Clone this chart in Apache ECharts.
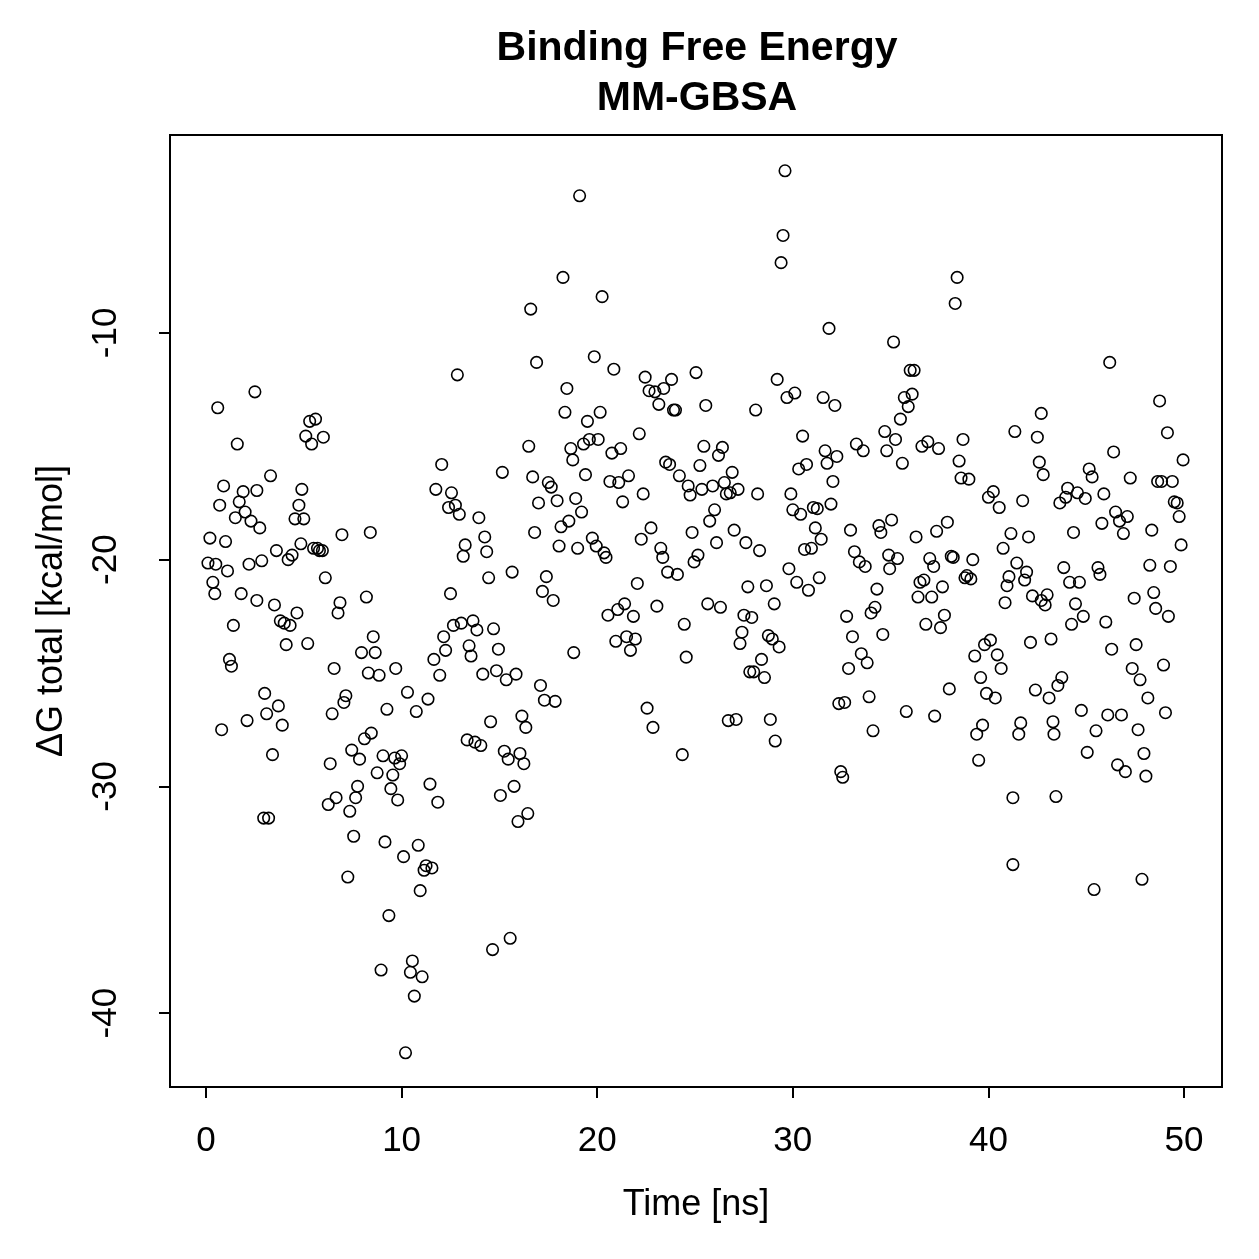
<!DOCTYPE html>
<html><head><meta charset="utf-8">
<script src="https://cdn.jsdelivr.net/npm/echarts@6/dist/echarts.min.js"></script>
<style>html,body{margin:0;padding:0;background:#fff}#c{width:1259px;height:1259px}</style>
</head><body><div id="c"></div>
<script>
const titleLines = ["Binding Free Energy", "MM-GBSA"];
const xTicks = [0, 10, 20, 30, 40, 50];
const yTicks = [-40, -30, -20, -10];
const time = [
0.1,0.2,0.35,0.45,0.5,0.6,0.7,0.8,0.9,1.0,1.1,1.2,1.3,1.4,1.5,1.6,1.7,1.8,1.9,2.0,
2.1,2.2,2.3,2.5,2.6,2.6,2.75,2.85,2.95,3.0,3.1,3.2,3.3,3.4,3.5,3.6,3.7,3.8,3.9,4.0,
4.1,4.2,4.3,4.4,4.55,4.65,4.75,4.85,4.9,5.0,5.1,5.2,5.3,5.4,5.5,5.6,5.7,5.8,5.95,6.0,
6.1,6.25,6.35,6.45,6.55,6.65,6.75,6.85,6.95,7.05,7.15,7.25,7.35,7.45,7.55,7.65,7.75,7.85,7.95,8.1,
8.2,8.3,8.4,8.45,8.55,8.65,8.75,8.85,8.95,9.05,9.15,9.25,9.35,9.45,9.55,9.65,9.7,9.8,9.9,10.0,
10.1,10.2,10.3,10.45,10.55,10.65,10.75,10.85,10.95,11.05,11.15,11.25,11.35,11.45,11.55,11.65,11.75,11.85,11.95,12.05,
12.15,12.25,12.4,12.5,12.55,12.65,12.75,12.85,12.95,13.05,13.15,13.25,13.35,13.45,13.55,13.65,13.75,13.85,13.95,14.05,
14.15,14.25,14.35,14.45,14.55,14.65,14.7,14.85,14.95,15.05,15.15,15.25,15.35,15.45,15.55,15.65,15.75,15.85,15.95,16.05,
16.15,16.25,16.35,16.45,16.5,16.6,16.7,16.8,16.9,17.0,17.1,17.2,17.3,17.4,17.5,17.65,17.75,17.85,17.95,18.05,
18.15,18.25,18.35,18.45,18.55,18.65,18.75,18.8,18.9,19.0,19.1,19.2,19.3,19.4,19.5,19.6,19.75,19.85,19.95,20.05,
20.15,20.25,20.35,20.45,20.55,20.65,20.75,20.85,20.95,21.05,21.1,21.2,21.3,21.4,21.5,21.6,21.7,21.85,21.95,22.05,
22.15,22.25,22.35,22.45,22.55,22.65,22.75,22.85,22.95,23.05,23.15,23.25,23.35,23.4,23.5,23.6,23.7,23.8,23.9,24.0,
24.1,24.2,24.35,24.45,24.55,24.65,24.75,24.85,24.95,25.05,25.15,25.25,25.35,25.45,25.55,25.65,25.75,25.9,26.0,26.1,
26.2,26.3,26.4,26.5,26.6,26.7,26.8,26.9,27.0,27.1,27.2,27.3,27.4,27.5,27.6,27.7,27.8,27.9,28.0,28.1,
28.2,28.3,28.4,28.55,28.65,28.75,28.85,28.95,29.05,29.1,29.2,29.3,29.4,29.5,29.6,29.7,29.8,29.9,30.0,30.1,
30.2,30.3,30.4,30.5,30.6,30.7,30.8,30.95,31.05,31.15,31.25,31.35,31.45,31.55,31.65,31.75,31.85,31.95,32.05,32.15,
32.25,32.35,32.45,32.55,32.65,32.75,32.85,32.95,33.05,33.15,33.25,33.4,33.5,33.6,33.7,33.8,33.9,34.0,34.1,34.2,
34.3,34.4,34.5,34.6,34.7,34.8,34.9,34.95,35.05,35.15,35.25,35.35,35.5,35.6,35.7,35.8,35.9,36.0,36.1,36.2,
36.3,36.4,36.5,36.6,36.7,36.8,36.9,37.0,37.1,37.2,37.25,37.35,37.45,37.55,37.65,37.75,37.9,38.0,38.1,38.2,
38.3,38.4,38.5,38.6,38.7,38.8,38.9,39.0,39.1,39.2,39.3,39.4,39.5,39.6,39.7,39.8,39.9,40.0,40.1,40.25,
40.35,40.45,40.55,40.65,40.75,40.85,40.95,41.05,41.15,41.25,41.35,41.25,41.45,41.55,41.65,41.75,41.85,41.95,42.05,42.15,
42.25,42.4,42.5,42.6,42.7,42.7,42.8,42.9,43.0,43.1,43.2,43.3,43.35,43.45,43.55,43.65,43.75,43.85,43.95,44.05,
44.15,44.25,44.35,44.45,44.55,44.65,44.75,44.85,44.95,45.05,45.15,45.3,45.4,45.5,45.6,45.7,45.8,45.9,46.0,46.1,
46.2,46.3,46.4,46.5,46.6,46.7,46.8,46.9,47.0,47.1,47.25,47.35,47.45,47.55,47.65,47.75,47.85,47.95,48.05,48.15,
48.25,48.35,48.45,48.55,48.65,48.75,48.85,48.95,49.05,49.15,49.2,49.3,49.4,49.5,49.65,49.75,49.85,49.95
];
const dG = [
-20.15,-19.05,-21.0,-21.5,-20.2,-13.3,-17.6,-27.5,-16.75,-19.2,-20.5,-24.4,-24.7,-22.9,-18.15,-14.9,-17.45,-21.5,-17.0,-17.9,
-27.1,-20.2,-18.3,-12.6,-21.8,-16.95,-18.6,-20.05,-31.4,-25.9,-26.8,-31.4,-16.3,-28.6,-22.0,-19.6,-26.45,-22.7,-27.3,-22.8,
-23.75,-20.0,-22.9,-19.8,-18.2,-22.35,-17.6,-19.3,-16.9,-18.2,-14.55,-23.7,-13.9,-14.9,-19.5,-13.8,-19.5,-19.6,-19.6,-14.6,
-20.8,-30.8,-29.0,-26.8,-24.8,-30.5,-22.35,-21.9,-18.9,-26.3,-26.0,-34.0,-31.1,-28.4,-32.2,-30.5,-30.0,-28.8,-24.1,-27.9,
-21.65,-25.0,-18.8,-27.65,-23.4,-24.1,-29.4,-25.1,-38.1,-28.65,-32.45,-26.6,-35.7,-30.1,-29.5,-28.75,-24.8,-30.6,-29.0,-28.65,
-33.1,-41.75,-25.85,-38.2,-37.7,-39.25,-26.7,-32.6,-34.6,-38.4,-33.7,-33.5,-26.15,-29.9,-33.6,-24.4,-16.9,-30.7,-25.1,-15.8,
-23.4,-24.0,-17.7,-21.5,-17.05,-22.9,-17.6,-11.85,-18.0,-22.8,-19.85,-19.35,-27.95,-23.8,-24.25,-22.7,-28.05,-23.1,-18.15,-28.2,
-25.05,-19.0,-19.65,-20.8,-27.15,-37.2,-23.05,-24.9,-23.95,-30.4,-16.15,-28.45,-25.3,-28.8,-36.7,-20.55,-30.0,-25.05,-31.55,-28.55,
-26.9,-29.0,-27.4,-31.2,-15.0,-8.95,-16.35,-18.8,-11.3,-17.5,-25.55,-21.4,-26.2,-20.75,-16.6,-16.8,-21.8,-26.25,-17.4,-19.4,
-18.55,-7.55,-13.5,-12.45,-18.3,-15.1,-15.6,-24.1,-17.3,-19.5,-3.95,-17.9,-14.9,-16.25,-13.9,-14.7,-19.05,-11.05,-19.4,-14.7,
-13.5,-8.4,-19.7,-19.9,-22.45,-16.55,-15.3,-11.6,-23.6,-22.2,-16.6,-15.1,-17.45,-21.95,-23.4,-16.3,-24.0,-22.5,-23.5,-21.05,
-14.45,-19.1,-17.1,-11.95,-26.55,-12.55,-18.6,-27.4,-12.6,-22.05,-13.15,-19.5,-19.9,-12.45,-15.7,-20.55,-15.8,-12.05,-13.4,-13.4,
-20.65,-16.3,-28.6,-22.85,-24.3,-16.75,-17.15,-18.8,-20.1,-11.75,-19.8,-15.85,-16.9,-15.0,-13.2,-21.95,-18.3,-16.75,-17.8,-19.25,
-15.4,-22.1,-15.05,-16.6,-17.1,-27.1,-17.05,-16.15,-18.7,-27.05,-16.9,-23.7,-23.2,-22.45,-19.25,-21.2,-24.95,-22.55,-24.95,-13.4,
-17.1,-19.6,-24.4,-25.2,-21.15,-23.35,-27.05,-23.5,-21.95,-28.0,-12.05,-23.85,-6.9,-5.7,-2.85,-12.85,-20.4,-17.1,-17.8,-12.65,
-21.0,-16.0,-18.0,-14.55,-19.55,-15.8,-21.35,-19.5,-17.7,-18.6,-17.75,-20.8,-19.1,-12.85,-15.2,-15.75,-9.8,-17.55,-16.55,-13.2,
-15.45,-26.35,-29.35,-29.6,-26.3,-22.5,-24.8,-18.7,-23.4,-19.65,-14.9,-20.1,-24.15,-15.2,-20.3,-24.55,-26.05,-22.35,-27.55,-22.1,
-21.3,-18.5,-18.8,-23.3,-14.35,-15.2,-19.8,-20.4,-18.25,-10.4,-14.7,-19.95,-13.8,-15.75,-12.85,-26.7,-13.25,-11.65,-12.7,-11.65,
-19.0,-21.65,-21.0,-15.0,-20.9,-22.85,-14.8,-19.95,-21.65,-20.3,-26.9,-18.75,-15.1,-23.0,-21.2,-22.45,-18.35,-25.7,-19.85,-19.9,
-8.7,-7.55,-15.65,-16.4,-14.7,-20.8,-20.7,-16.45,-20.85,-20.0,-24.25,-27.7,-28.85,-25.2,-27.3,-23.75,-25.9,-17.25,-23.55,-17.0,
-26.1,-24.2,-17.7,-24.8,-19.5,-21.9,-21.15,-20.75,-18.85,-30.5,-14.35,-33.45,-20.15,-27.7,-27.2,-17.4,-20.9,-20.55,-19.0,-23.65,
-21.6,-25.75,-14.6,-15.7,-21.8,-13.55,-16.25,-22.0,-21.55,-26.1,-23.5,-27.15,-27.7,-30.45,-25.55,-17.5,-25.2,-20.35,-17.25,-16.85,
-21.0,-22.85,-18.8,-21.95,-17.05,-21.0,-26.65,-22.5,-17.3,-28.5,-16.0,-16.35,-34.55,-27.55,-20.35,-20.65,-18.4,-17.1,-22.75,-26.85,
-11.3,-23.95,-15.25,-17.9,-29.05,-18.3,-26.85,-18.85,-29.35,-18.1,-16.4,-24.8,-21.7,-23.75,-27.5,-25.3,-34.1,-28.55,-29.55,-26.1,
-20.25,-18.7,-21.45,-22.15,-16.55,-13.0,-16.55,-24.65,-26.75,-14.4,-22.5,-20.3,-16.55,-17.45,-17.5,-18.1,-19.35,-15.6
];
const points = time.map((t, i) => [t, dG[i]]);
const FONT = '"Liberation Sans", Arial, Helvetica, sans-serif';
const chart = echarts.init(document.getElementById('c'), null, {renderer: 'canvas'});
chart.setOption({
  animation: false,
  backgroundColor: '#fff',
  title: {
    text: titleLines.join('\n'),
    left: 692, top: 19, textAlign: 'center',
    textStyle: {fontFamily: FONT, fontWeight: 'bold', fontSize: 41, lineHeight: 50, color: '#000'}
  },
  grid: {left: 170, top: 135, width: 1052, height: 952, show: true, borderColor: '#000', borderWidth: 2, backgroundColor: 'transparent'},
  xAxis: {
    type: 'value', min: -1.84, max: 51.94,
    name: 'Time [ns]', nameLocation: 'middle', nameGap: 100,
    nameTextStyle: {fontFamily: FONT, fontSize: 36, color: '#000'},
    axisLine: {show: true, onZero: false, lineStyle: {color: '#000', width: 2}},
    splitLine: {show: false},
    axisTick: {show: true, length: 11, lineStyle: {color: '#000', width: 2}, customValues: xTicks},
    axisLabel: {fontFamily: FONT, fontSize: 35, color: '#000', margin: 37, customValues: xTicks}
  },
  yAxis: {
    type: 'value', min: -43.26, max: -1.27,
    name: 'ΔG total [kcal/mol]', nameLocation: 'middle', nameGap: 100, nameRotate: 90,
    nameTextStyle: {fontFamily: FONT, fontSize: 36, color: '#000'},
    axisLine: {show: true, onZero: false, lineStyle: {color: '#000', width: 2}},
    splitLine: {show: false},
    axisTick: {show: true, length: 11, lineStyle: {color: '#000', width: 2}, customValues: yTicks},
    axisLabel: {fontFamily: FONT, fontSize: 35, color: '#000', margin: 64, rotate: 90, align: 'center', verticalAlign: 'middle', customValues: yTicks}
  },
  series: [{
    type: 'scatter',
    data: points,
    symbol: 'circle',
    symbolSize: 11.5,
    itemStyle: {color: 'rgba(0,0,0,0)', borderColor: '#000', borderWidth: 1.6, opacity: 1},
    emphasis: {disabled: true}
  }]
});
</script></body></html>
